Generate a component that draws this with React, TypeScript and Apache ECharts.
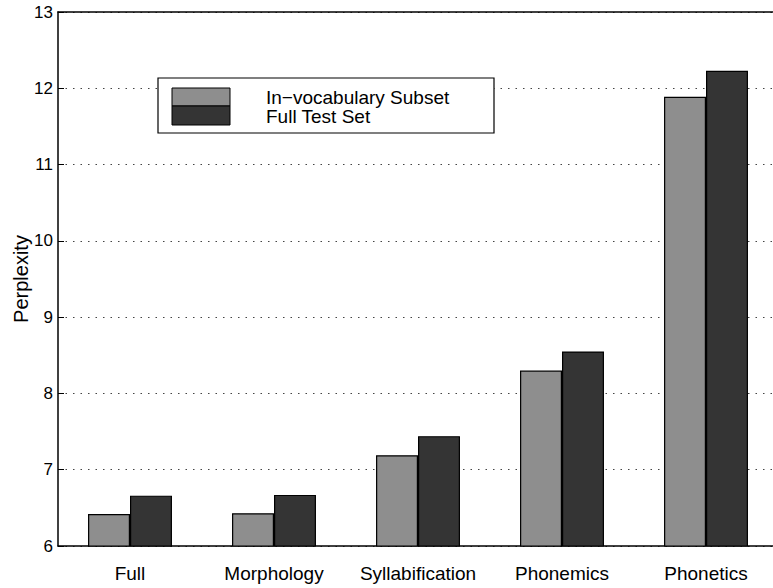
import React, { useEffect, useRef } from "react";
import * as echarts from "echarts";

const categories = ["Full", "Morphology", "Syllabification", "Phonemics", "Phonetics"];
const inVocabulary = [6.42, 6.43, 7.19, 8.3, 11.89];
const fullTestSet = [6.66, 6.67, 7.44, 8.55, 12.23];
const seriesNames = ["In−vocabulary Subset", "Full Test Set"];
const yTicks = { min: 6, max: 13, interval: 1 };

const LIGHT = "#8e8e8e";
const DARK = "#343434";
const FONT = "Liberation Sans, Arial, sans-serif";

export default function App() {
  const ref = useRef<HTMLDivElement>(null);
  useEffect(() => {
    if (!ref.current) return;
    const chart = echarts.init(ref.current, null, { renderer: "svg" });
    chart.setOption({
      animation: false,
      backgroundColor: "#ffffff",
      textStyle: { fontFamily: FONT },
      grid: {
        left: 58,
        top: 12,
        width: 720,
        height: 534,
        containLabel: false,
        outerBoundsMode: "none",
      },
      xAxis: [
        {
          type: "category",
          data: categories,
          position: "bottom",
          boundaryGap: true,
          axisLine: { lineStyle: { color: "#000", width: 1.5 } },
          axisTick: { inside: true, length: 6, lineStyle: { color: "#000" } },
          axisLabel: { color: "#000", fontSize: 19, margin: 18, fontFamily: FONT, interval: 0, hideOverlap: false },
          splitLine: { show: false },
        },
        {
          type: "category",
          data: categories,
          position: "top",
          boundaryGap: true,
          axisLine: { lineStyle: { color: "#000", width: 1.5 } },
          axisTick: { inside: true, length: 6, lineStyle: { color: "#000" } },
          axisLabel: { show: false },
          splitLine: { show: false },
        },
      ],
      yAxis: [
        {
          type: "value",
          min: yTicks.min,
          max: yTicks.max,
          interval: yTicks.interval,
          name: "Perplexity",
          nameLocation: "middle",
          nameGap: 27,
          nameMoveOverlap: false,
          nameTextStyle: { color: "#000", fontSize: 20, fontFamily: FONT },
          axisLine: { show: true, lineStyle: { color: "#000", width: 1.5 } },
          axisTick: { show: true, inside: true, length: 6, lineStyle: { color: "#000" } },
          axisLabel: { color: "#000", fontSize: 17, margin: 5, fontFamily: FONT },
          splitLine: { show: true, lineStyle: { color: "#444", type: [1.5, 6], width: 1.2 } },
        },
      ],
      series: [
        {
          name: seriesNames[0],
          type: "bar",
          data: inVocabulary,
          barGap: "0%",
          barCategoryGap: "41.7%",
          itemStyle: { color: LIGHT, borderColor: "#000", borderWidth: 1.2 },
        },
        {
          name: seriesNames[1],
          type: "bar",
          data: fullTestSet,
          barGap: "0%",
          barCategoryGap: "41.7%",
          itemStyle: { color: DARK, borderColor: "#000", borderWidth: 1.2 },
        },
      ],
      graphic: [
        {
          type: "rect",
          shape: { x: 158, y: 78, width: 336, height: 55 },
          style: { fill: "#fff", stroke: "#000", lineWidth: 1.2 },
          z: 10,
        },
        {
          type: "rect",
          shape: { x: 172, y: 88, width: 58, height: 18 },
          style: { fill: LIGHT, stroke: "#000", lineWidth: 1 },
          z: 11,
        },
        {
          type: "rect",
          shape: { x: 172, y: 106, width: 58, height: 19 },
          style: { fill: DARK, stroke: "#000", lineWidth: 1 },
          z: 11,
        },
        {
          type: "text",
          x: 266,
          y: 97,
          style: { text: seriesNames[0], fill: "#000", font: `19px ${FONT}`, textVerticalAlign: "middle" },
          z: 11,
        },
        {
          type: "text",
          x: 266,
          y: 116,
          style: { text: seriesNames[1], fill: "#000", font: `19px ${FONT}`, textVerticalAlign: "middle" },
          z: 11,
        },
      ],
    });
    return () => chart.dispose();
  }, []);
  return (
    <div
      ref={ref}
      style={{ position: "fixed", left: 0, top: 0, width: 773, height: 588, background: "#fff" }}
    />
  );
}
